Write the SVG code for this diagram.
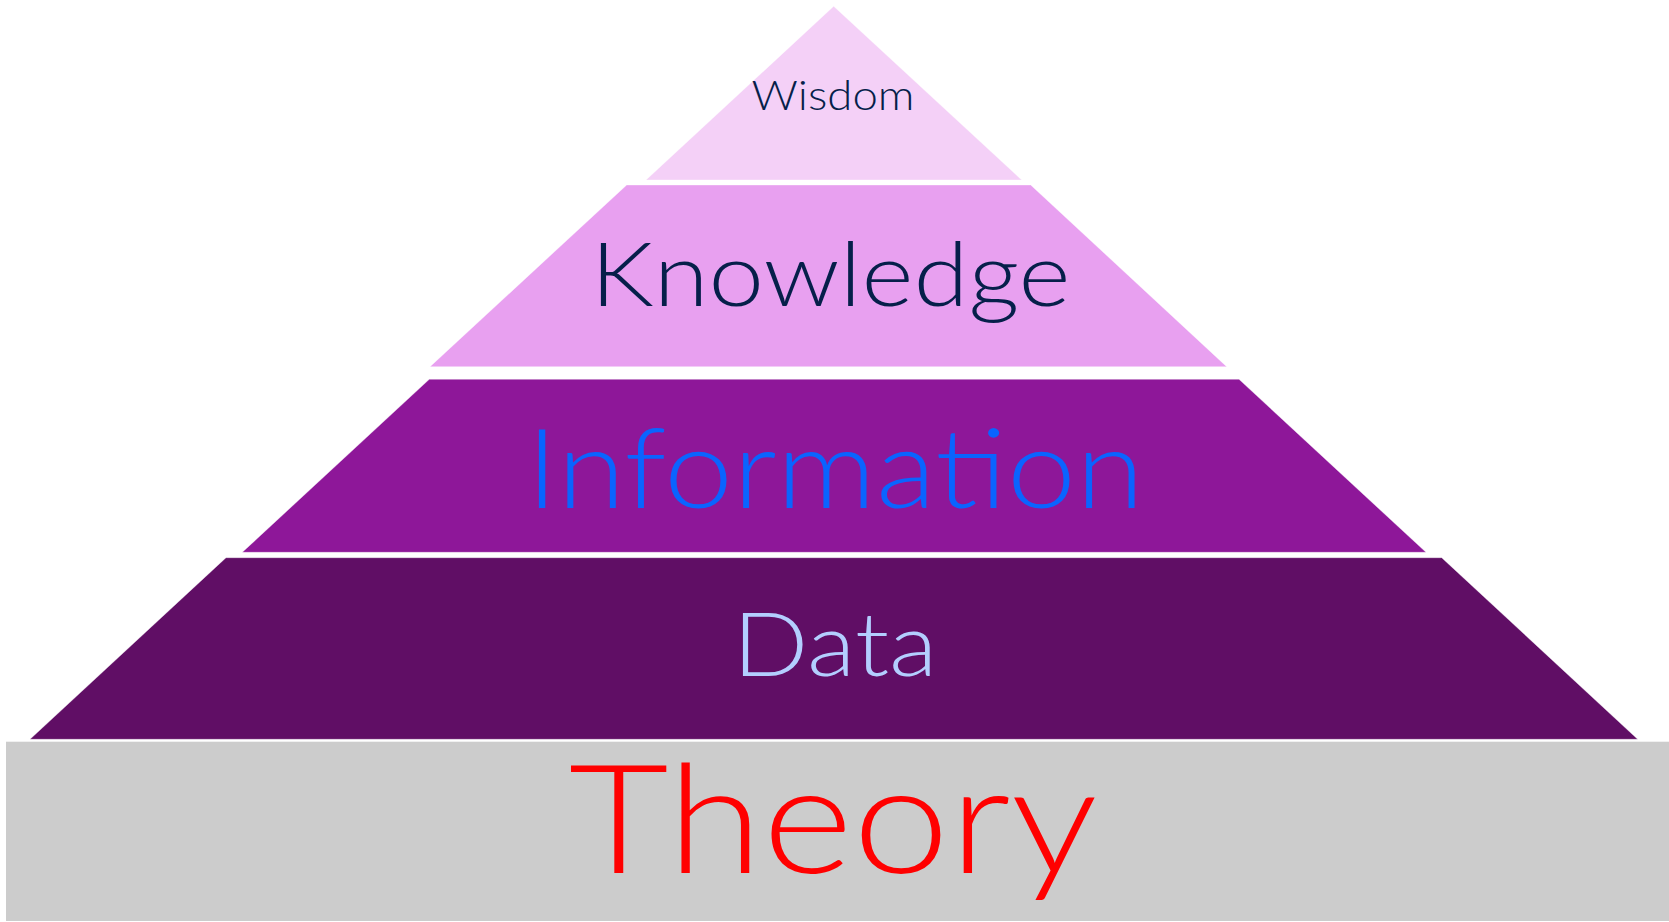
<svg xmlns="http://www.w3.org/2000/svg" width="1669" height="922" viewBox="0 0 1669 922">
<style>
.lbl{font-family:Lato,"Open Sans","Liberation Sans",sans-serif;font-weight:300;text-anchor:middle}
.edge{stroke:#ffffff;stroke-opacity:0.35;stroke-width:1}
</style>
<rect width="1669" height="922" fill="#ffffff"/>
<g id="theory">
<rect x="6" y="741.7" width="1663" height="179.3" fill="#cccccc"/>
<text class="lbl" x="833" y="872.7" font-size="152" fill="#ff0000" textLength="529" lengthAdjust="spacingAndGlyphs">Theory</text>
</g>
<g id="data">
<polygon class="edge" points="226,557.7 1441.7,557.7 1637.7,739.3 30,739.3" fill="#600e65"/>
<text class="lbl" x="835" y="676" font-size="88" fill="#b3ceff" textLength="205" lengthAdjust="spacingAndGlyphs">Data</text>
</g>
<g id="information">
<polygon class="edge" points="429.3,379.3 1239,379.3 1426,552.3 242.3,552.3" fill="#8e1799"/>
<text class="lbl" x="835" y="508" font-size="111" fill="#0a64ff" textLength="618" lengthAdjust="spacingAndGlyphs">Information</text>
</g>
<g id="knowledge">
<polygon class="edge" points="626.7,185 1030.7,185 1226.7,366.7 430,366.7" fill="#e8a0f0"/>
<text class="lbl" x="830.5" y="306" font-size="89" fill="#061f4a" textLength="480" lengthAdjust="spacingAndGlyphs">Knowledge</text>
</g>
<g id="wisdom">
<polygon class="edge" points="833.7,6.3 1021.7,180 646,180" fill="#f4d0f7"/>
<text class="lbl" x="833" y="109.5" font-size="41" fill="#061f4a" textLength="163" lengthAdjust="spacingAndGlyphs">Wisdom</text>
</g>
<g id="connectors"></g>
</svg>
